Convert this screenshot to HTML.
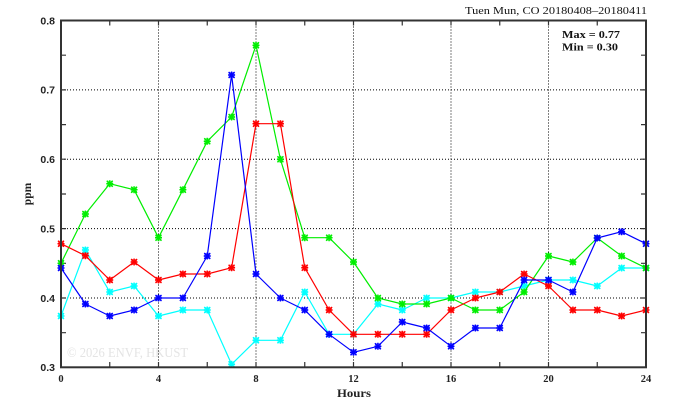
<!DOCTYPE html>
<html>
<head>
<meta charset="utf-8">
<style>
  html,body{margin:0;padding:0;background:#fff;}
  svg{display:block;}
  .serif{font-family:"Liberation Serif","DejaVu Serif",serif;}
  .sans{font-family:"Liberation Sans","DejaVu Sans",sans-serif;}
</style>
</head>
<body>
<svg width="674" height="409" viewBox="0 0 674 409" xmlns="http://www.w3.org/2000/svg">
  <defs>
    <marker id="mg" markerUnits="userSpaceOnUse" markerWidth="10" markerHeight="10" refX="5" refY="5" overflow="visible">
      <path d="M1.5,5H8.5M5,1.5V8.5M2,2L8,8M2,8L8,2" stroke="#00ee00" stroke-width="1.4" fill="none"/>
      <rect x="2.5" y="2.5" width="5" height="5" fill="none" stroke="#00ee00" stroke-width="0.8" opacity="0.6"/>
    </marker>
    <marker id="mr" markerUnits="userSpaceOnUse" markerWidth="10" markerHeight="10" refX="5" refY="5" overflow="visible">
      <path d="M1.5,5H8.5M5,1.5V8.5M2,2L8,8M2,8L8,2" stroke="#ff0000" stroke-width="1.4" fill="none"/>
      <rect x="2.5" y="2.5" width="5" height="5" fill="none" stroke="#ff0000" stroke-width="0.8" opacity="0.6"/>
    </marker>
    <marker id="mb" markerUnits="userSpaceOnUse" markerWidth="10" markerHeight="10" refX="5" refY="5" overflow="visible">
      <path d="M1.5,5H8.5M5,1.5V8.5M2,2L8,8M2,8L8,2" stroke="#0000ff" stroke-width="1.4" fill="none"/>
      <rect x="2.5" y="2.5" width="5" height="5" fill="none" stroke="#0000ff" stroke-width="0.8" opacity="0.6"/>
    </marker>
    <marker id="mc" markerUnits="userSpaceOnUse" markerWidth="10" markerHeight="10" refX="5" refY="5" overflow="visible">
      <path d="M1.5,5H8.5M5,1.5V8.5M2,2L8,8M2,8L8,2" stroke="#00ffff" stroke-width="1.4" fill="none"/>
      <rect x="2.5" y="2.5" width="5" height="5" fill="none" stroke="#00ffff" stroke-width="0.8" opacity="0.6"/>
    </marker>
  </defs>

  <!-- watermark -->
  <text class="serif" x="67" y="357" font-size="14" fill="#e4e4e4" textLength="121" lengthAdjust="spacingAndGlyphs">© 2026  ENVF, HKUST</text>

  <!-- grid -->
  <g stroke="#000" stroke-width="1" stroke-dasharray="1,2" fill="none">
    <line x1="61" y1="298" x2="646" y2="298"/>
    <line x1="61" y1="228.6" x2="646" y2="228.6"/>
    <line x1="61" y1="159.2" x2="646" y2="159.2"/>
    <line x1="61" y1="89.9" x2="646" y2="89.9"/>
    <line x1="158.5" y1="20.5" x2="158.5" y2="367"/>
    <line x1="256" y1="20.5" x2="256" y2="367"/>
    <line x1="353.5" y1="20.5" x2="353.5" y2="367"/>
    <line x1="451" y1="20.5" x2="451" y2="367"/>
    <line x1="548.5" y1="20.5" x2="548.5" y2="367"/>
  </g>

  <!-- ticks -->
  <g stroke="#333" stroke-width="1.2">
    <!-- bottom/top every 2h -->
    <path d="M109.75,367v-5M207.25,367v-5M304.75,367v-5M402.25,367v-5M499.75,367v-5M597.25,367v-5
             M158.5,367v-5M256,367v-5M353.5,367v-5M451,367v-5M548.5,367v-5
             M109.75,20.5v5M207.25,20.5v5M304.75,20.5v5M402.25,20.5v5M499.75,20.5v5M597.25,20.5v5
             M158.5,20.5v5M256,20.5v5M353.5,20.5v5M451,20.5v5M548.5,20.5v5"/>
    <!-- left/right every 0.05 -->
    <path d="M61,55.2h5M61,124.6h5M61,194h5M61,263.3h5M61,332.7h5
             M61,89.9h5M61,159.2h5M61,228.6h5M61,298h5
             M646,55.2h-5M646,124.6h-5M646,194h-5M646,263.3h-5M646,332.7h-5
             M646,89.9h-5M646,159.2h-5M646,228.6h-5M646,298h-5"/>
  </g>

  <!-- series: cyan, green, red, blue -->
  <g fill="none" stroke-width="1.2" stroke-linejoin="round">
    <polyline stroke="#00ffff" marker-start="url(#mc)" marker-mid="url(#mc)" marker-end="url(#mc)"
      points="61,316 85.4,250 109.75,292 134.1,286 158.5,316 182.9,310 207.25,310 231.6,364.3 256,340.3 280.4,340.3 304.75,292 329.1,334.3 353.5,334.3 377.9,304 402.25,310 426.6,298 451,298 475.4,292 499.75,292 524.1,286 548.5,280 572.9,280 597.25,286 621.6,268 646,268"/>
    <polyline stroke="#00ee00" marker-start="url(#mg)" marker-mid="url(#mg)" marker-end="url(#mg)"
      points="61,263.3 85.4,214 109.75,183.7 134.1,189.7 158.5,237.7 182.9,189.7 207.25,141.3 231.6,117 256,45.3 280.4,159.3 304.75,237.7 329.1,237.7 353.5,262 377.9,298 402.25,304 426.6,304 451,298 475.4,310 499.75,310 524.1,292 548.5,256 572.9,262 597.25,238 621.6,256 646,268"/>
    <polyline stroke="#ff0000" marker-start="url(#mr)" marker-mid="url(#mr)" marker-end="url(#mr)"
      points="61,243.7 85.4,255.7 109.75,280 134.1,262 158.5,280 182.9,274 207.25,274 231.6,267.7 256,123.7 280.4,123.7 304.75,267.7 329.1,310 353.5,334.3 377.9,334.3 402.25,334.3 426.6,334.3 451,310 475.4,298 499.75,292 524.1,274 548.5,286 572.9,310 597.25,310 621.6,316 646,310"/>
    <polyline stroke="#0000ff" marker-start="url(#mb)" marker-mid="url(#mb)" marker-end="url(#mb)"
      points="61,268 85.4,304 109.75,316 134.1,310 158.5,298 182.9,298 207.25,256 231.6,75 256,274 280.4,298 304.75,310 329.1,334.3 353.5,352.3 377.9,346.3 402.25,322 426.6,328 451,346.3 475.4,328 499.75,328 524.1,280 548.5,280 572.9,292 597.25,238 621.6,231.7 646,243.7"/>
  </g>

  <!-- frame -->
  <rect x="61" y="20.5" width="585" height="346.8" fill="none" stroke="#333" stroke-width="2"/>

  <!-- y labels -->
  <g class="sans" font-size="10.5" font-weight="bold" fill="#222" text-anchor="end">
    <text x="55" y="24.3">0.8</text>
    <text x="55" y="93.7">0.7</text>
    <text x="55" y="163">0.6</text>
    <text x="55" y="232.4">0.5</text>
    <text x="55" y="301.8">0.4</text>
    <text x="55" y="371.1">0.3</text>
  </g>

  <!-- x labels -->
  <g class="serif" font-size="10.5" font-weight="bold" fill="#222" text-anchor="middle">
    <text x="61" y="382">0</text>
    <text x="158.5" y="382">4</text>
    <text x="256" y="382">8</text>
    <text x="353.5" y="382">12</text>
    <text x="451" y="382">16</text>
    <text x="548.5" y="382">20</text>
    <text x="646" y="382">24</text>
  </g>

  <!-- axis titles -->
  <text class="serif" x="354" y="397" font-size="11.5" font-weight="bold" fill="#222" text-anchor="middle" textLength="34" lengthAdjust="spacingAndGlyphs">Hours</text>
  <text class="serif" transform="translate(31,194) rotate(-90)" font-size="11.5" font-weight="bold" fill="#222" text-anchor="middle">ppm</text>

  <!-- title -->
  <text class="serif" x="647" y="14" font-size="11" fill="#111" text-anchor="end" textLength="182" lengthAdjust="spacingAndGlyphs">Tuen Mun, CO 20180408–20180411</text>

  <!-- max/min -->
  <text class="serif" x="562" y="38" font-size="11" font-weight="bold" fill="#111" textLength="58" lengthAdjust="spacingAndGlyphs">Max = 0.77</text>
  <text class="serif" x="562" y="50.5" font-size="11" font-weight="bold" fill="#111" textLength="56" lengthAdjust="spacingAndGlyphs">Min = 0.30</text>
</svg>
</body>
</html>
